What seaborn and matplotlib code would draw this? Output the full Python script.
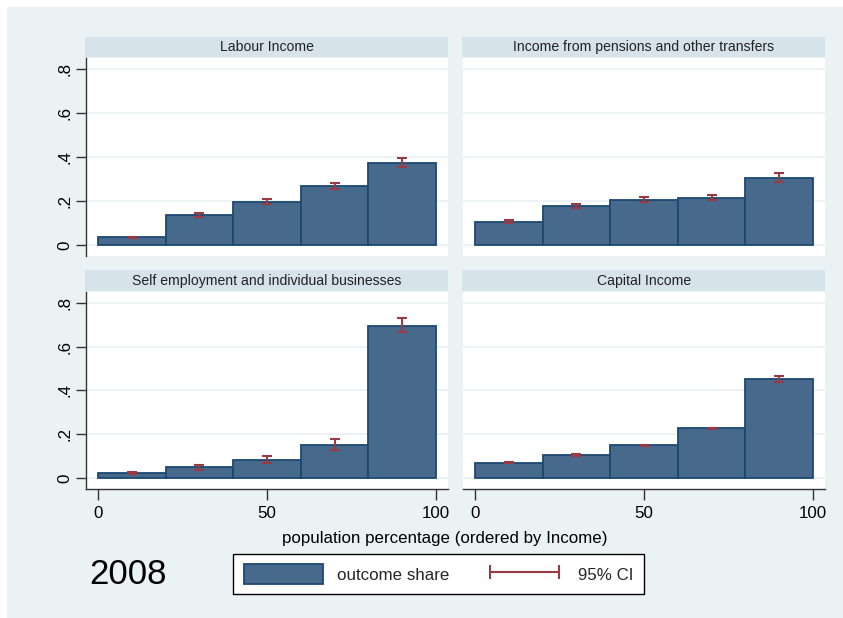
import matplotlib
matplotlib.use("Agg")
import numpy as np
import pandas as pd
import matplotlib.pyplot as plt
import seaborn as sns
from matplotlib.patches import Rectangle, Patch
from matplotlib.lines import Line2D

# ---- data -------------------------------------------------------------
panel_titles = [
    "Labour Income",
    "Income from pensions and other transfers",
    "Self employment and individual businesses",
    "Capital Income",
]
bin_edges = [0, 20, 40, 60, 80, 100]
bin_mid = [10, 30, 50, 70, 90]

labour_share = [0.035, 0.135, 0.197, 0.268, 0.373]
labour_lo = [0.032, 0.127, 0.188, 0.255, 0.355]
labour_hi = [0.038, 0.145, 0.208, 0.283, 0.395]

pension_share = [0.106, 0.177, 0.205, 0.215, 0.305]
pension_lo = [0.100, 0.168, 0.195, 0.204, 0.286]
pension_hi = [0.112, 0.187, 0.216, 0.225, 0.328]

selfemp_share = [0.024, 0.050, 0.083, 0.153, 0.695]
selfemp_lo = [0.019, 0.036, 0.067, 0.130, 0.667]
selfemp_hi = [0.029, 0.058, 0.099, 0.178, 0.731]

capital_share = [0.071, 0.105, 0.150, 0.227, 0.452]
capital_lo = [0.068, 0.101, 0.147, 0.223, 0.439]
capital_hi = [0.074, 0.109, 0.153, 0.230, 0.465]

y_ticks = [0, 0.2, 0.4, 0.6, 0.8]
y_tick_labels = ["0", ".2", ".4", ".6", ".8"]
x_ticks = [0, 50, 100]
x_tick_labels = ["0", "50", "100"]
x_title = "population percentage (ordered by Income)"
year_label = "2008"
legend_labels = ["outcome share", "95% CI"]

series = [
    (labour_share, labour_lo, labour_hi),
    (pension_share, pension_lo, pension_hi),
    (selfemp_share, selfemp_lo, selfemp_hi),
    (capital_share, capital_lo, capital_hi),
]

# ---- style ------------------------------------------------------------
BG = "#EAF2F3"
STRIP = "#D7E3EA"
FILL = "#476A8C"
EDGE = "#1C4870"
CI = "#9A3A45"
AXC = "#333333"

sns.set_theme(style="white")
plt.rcParams["font.family"] = ["Liberation Sans", "DejaVu Sans"]

W, H = 843, 618
fig = plt.figure(figsize=(W / 100, H / 100), dpi=100, facecolor="white")


def fbox(x0, y0, x1, y1):
    return [x0 / W, 1 - y1 / H, (x1 - x0) / W, (y1 - y0) / H]


fig.add_artist(Rectangle((7 / W, 0), 1 - 7 / W, 1 - 7 / H,
                         transform=fig.transFigure, facecolor=BG,
                         edgecolor="none", zorder=-10))

cols = [(86, 448), (463, 825)]
rows = [(58, 256), (292, 489)]
strips = [(37, 57), (270, 291)]

TICK_PT = 12.2

for i, (title, (share, lo, hi)) in enumerate(zip(panel_titles, series)):
    r, c = divmod(i, 2)
    x0, x1 = cols[c]
    y0, y1 = rows[r]
    ax = fig.add_axes(fbox(x0, y0, x1, y1))
    ax.set_facecolor("white")

    df = pd.DataFrame({"pct": bin_mid, "share": share})
    sns.histplot(data=df, x="pct", weights="share", bins=bin_edges, ax=ax,
                 color=FILL, edgecolor=EDGE, linewidth=1.3, alpha=1.0,
                 zorder=2)
    share_a = np.array(share)
    ax.errorbar(bin_mid, share_a,
                yerr=[share_a - np.array(lo), np.array(hi) - share_a],
                fmt="none", ecolor=CI, elinewidth=1.5, capsize=3.6,
                capthick=1.5, zorder=3)

    ax.set_xlim(-3.5, 103.5)
    ax.set_ylim(-0.05, 0.85)
    ax.set_xlabel("")
    ax.set_ylabel("")
    ax.set_yticks(y_ticks)
    ax.set_xticks(x_ticks)
    ax.grid(axis="y", color=BG, linewidth=1.3, zorder=0)
    ax.grid(axis="x", visible=False)
    ax.set_axisbelow(True)

    for side in ["top", "right", "left", "bottom"]:
        ax.spines[side].set_visible(False)

    if c == 0:
        ax.spines["left"].set_visible(True)
        ax.spines["left"].set_color(AXC)
        ax.spines["left"].set_linewidth(1.0)
        ax.set_yticklabels(y_tick_labels)
        ax.tick_params(axis="y", left=True, length=7, width=1.0, color=AXC,
                       pad=3, labelsize=TICK_PT, labelcolor="black",
                       labelrotation=90)
        for lab in ax.get_yticklabels():
            lab.set_va("center")
    else:
        ax.tick_params(axis="y", left=False, labelleft=False)

    if r == 1:
        ax.spines["bottom"].set_visible(True)
        ax.spines["bottom"].set_color(AXC)
        ax.spines["bottom"].set_linewidth(1.0)
        ax.set_xticklabels(x_tick_labels)
        ax.tick_params(axis="x", bottom=True, length=8, width=1.0, color=AXC,
                       pad=4, labelsize=TICK_PT, labelcolor="black")
    else:
        ax.tick_params(axis="x", bottom=False, labelbottom=False)

    # title strip above each panel
    sy0, sy1 = strips[r]
    fig.add_artist(Rectangle((x0 / W - 1 / W, 1 - sy1 / H), (x1 - x0 + 1) / W,
                             (sy1 - sy0) / H, transform=fig.transFigure,
                             facecolor=STRIP, edgecolor="none", zorder=1))
    fig.text((x0 + x1) / 2 / W, 1 - (sy0 + sy1) / 2 / H, title,
             ha="center", va="center", fontsize=10.1, color="#222222")

fig.text(445 / W, 1 - 539 / H, x_title, ha="center", va="center",
         fontsize=TICK_PT, color="black")
fig.text(127.5 / W, 1 - 575 / H, year_label, ha="center", va="center",
         fontsize=25, color="black")

handles = [
    Patch(facecolor=FILL, edgecolor=EDGE, linewidth=1.3),
    Line2D([0, 1], [0, 0], color=CI, linewidth=1.5, marker="|",
           markersize=10, markeredgewidth=1.5),
]
leg = fig.legend(handles, legend_labels, ncol=2, loc="center left",
                 bbox_to_anchor=(233 / W, 1 - 574 / H), frameon=True,
                 fancybox=False, edgecolor="black", framealpha=1,
                 facecolor="white", fontsize=TICK_PT, handlelength=4.7,
                 handleheight=1.35, handletextpad=0.8, columnspacing=2.1,
                 borderpad=0.63, borderaxespad=0, numpoints=2)
leg.get_frame().set_linewidth(1.0)

fig.savefig("out.png", dpi=100, facecolor="white")
